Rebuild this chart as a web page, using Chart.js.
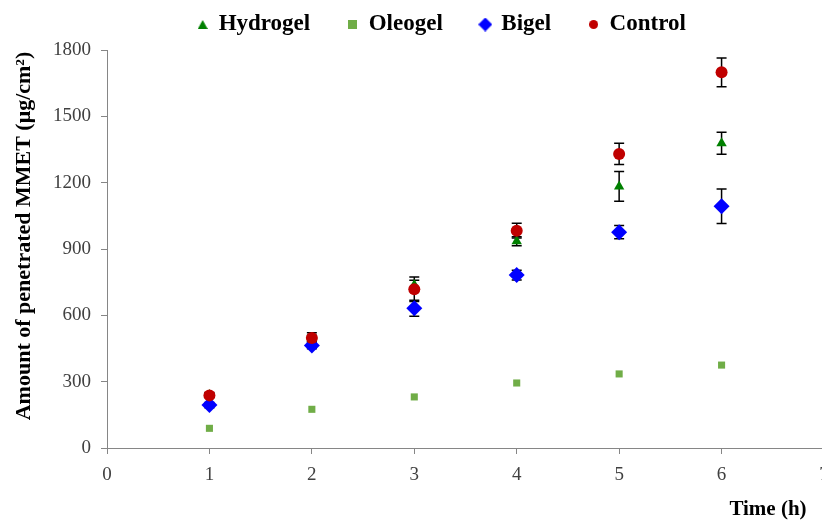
<!DOCTYPE html>
<html>
<head>
<meta charset="utf-8">
<script src="https://cdn.jsdelivr.net/npm/chart.js@4.4.0/dist/chart.umd.min.js"></script>
<style>
  html, body { margin: 0; padding: 0; background: #fff; overflow: hidden; }
  #wrap { position: relative; width: 840px; height: 520px; }
</style>
</head>
<body>
<div id="wrap"><canvas id="c" width="840" height="520"></canvas></div>
<script>
// Sampling times (h)
const timeHours = [1, 2, 3, 4, 5, 6];

// Cumulative amount of MMET penetrated (µg/cm²) and standard deviations
const hydrogel    = [240, 495, 737, 935, 1183, 1378];
const hydrogelErr = [10, 15, 22, 20, 67, 50];
const oleogel     = [89, 175, 231, 294, 335, 375];
const oleogelErr  = [0, 0, 0, 0, 0, 0];
const bigel       = [194, 464, 632, 782, 976, 1093];
const bigelErr    = [12, 15, 36, 22, 30, 78];
const control     = [238, 497, 718, 983, 1330, 1699];
const controlErr  = [10, 24, 55, 33, 48, 65];

// Axis ticks
const xTicks = [0, 1, 2, 3, 4, 5, 6, 7];
const yTicks = [0, 300, 600, 900, 1200, 1500, 1800];

const serif = "'Liberation Serif', 'Times New Roman', serif";

function points(ys, errs) {
  return timeHours.map((t, i) => ({ x: t, y: ys[i], err: errs[i] }));
}

// Small marker images for the legend row
function marker(shape, color, w, h) {
  const c = document.createElement('canvas');
  c.width = w; c.height = h;
  const g = c.getContext('2d');
  g.fillStyle = color;
  g.beginPath();
  if (shape === 'triangle') { g.moveTo(w / 2, 0); g.lineTo(w, h); g.lineTo(0, h); }
  else if (shape === 'rect') { g.rect(0, 0, w, h); }
  else if (shape === 'diamond') { g.moveTo(w / 2, 0); g.lineTo(w, h / 2); g.lineTo(w / 2, h); g.lineTo(0, h / 2); }
  else { g.arc(w / 2, h / 2, w / 2, 0, Math.PI * 2); }
  g.closePath();
  g.fill();
  return c;
}
const legendMarkers = [
  marker('triangle', '#008000', 10, 9),
  marker('rect', '#70ad47', 9, 9),
  marker('diamond', '#0000ff', 14, 14),
  marker('circle', '#c00000', 9, 9)
];

// Vertical error bars with caps, drawn behind the markers
const errorBars = {
  id: 'errorBars',
  beforeDatasetsDraw(chart) {
    const { ctx, scales: { x, y } } = chart;
    ctx.save();
    ctx.strokeStyle = '#000';
    ctx.lineWidth = 1.5;
    chart.data.datasets.forEach(ds => {
      ds.data.forEach(p => {
        if (!p.err) return;
        const px = x.getPixelForValue(p.x);
        const top = y.getPixelForValue(p.y + p.err);
        const bot = y.getPixelForValue(p.y - p.err);
        ctx.beginPath();
        ctx.moveTo(px, top); ctx.lineTo(px, bot);
        ctx.moveTo(px - 5, top); ctx.lineTo(px + 5, top);
        ctx.moveTo(px - 5, bot); ctx.lineTo(px + 5, bot);
        ctx.stroke();
      });
    });
    ctx.restore();
  }
};

// Axis titles
const axisTitles = {
  id: 'axisTitles',
  afterDraw(chart) {
    const { ctx } = chart;
    ctx.save();
    ctx.fillStyle = '#000';
    ctx.textAlign = 'center';
    ctx.textBaseline = 'middle';
    ctx.font = "bold 21px " + serif;
    ctx.fillText('Time (h)', 768, 510);
    ctx.font = "bold 22px " + serif;
    ctx.translate(24, 236);
    ctx.rotate(-Math.PI / 2);
    ctx.fillText('Amount of penetrated MMET (μg/cm²)', 0, 0);
    ctx.restore();
  }
};

// Place the legend row near the top edge
const legendPlace = {
  id: 'legendPlace',
  afterLayout(chart) {
    const lg = chart.legend;
    if (!lg) return;
    const dx = 30;
    lg.left += dx; lg.right += dx;
    lg.top = -25;
    lg.height = 90;
    lg.bottom = lg.top + lg.height;
  }
};

new Chart(document.getElementById('c'), {
  type: 'scatter',
  data: {
    datasets: [
      { label: 'Hydrogel', data: points(hydrogel, hydrogelErr), pointStyle: 'triangle',
        backgroundColor: '#008000', borderColor: '#008000', pointRadius: 6, borderWidth: 0, order: 3 },
      { label: 'Oleogel', data: points(oleogel, oleogelErr), pointStyle: 'rect',
        backgroundColor: '#70ad47', borderColor: '#70ad47', pointRadius: 5, borderWidth: 0, order: 2 },
      { label: 'Bigel', data: points(bigel, bigelErr), pointStyle: 'rectRot',
        backgroundColor: '#0000ff', borderColor: '#0000ff', pointRadius: 8, borderWidth: 0, order: 1 },
      { label: 'Control', data: points(control, controlErr), pointStyle: 'circle',
        backgroundColor: '#c00000', borderColor: '#c00000', pointRadius: 6, borderWidth: 0, order: 0 }
    ]
  },
  options: {
    responsive: false,
    animation: false,
    devicePixelRatio: 1,
    layout: { padding: { top: 6, right: 16, bottom: 0, left: 0 } },
    plugins: {
      legend: {
        position: 'top',
        maxHeight: 44,
        labels: {
          usePointStyle: true,
          boxWidth: 9,
          boxHeight: 8,
          padding: 38,
          color: '#000',
          font: { family: serif, size: 23, weight: 'bold' },
          sort: (a, b) => a.datasetIndex - b.datasetIndex,
          generateLabels(chart) {
            const items = Chart.defaults.plugins.legend.labels.generateLabels(chart);
            items.forEach(it => { it.pointStyle = legendMarkers[it.datasetIndex]; });
            return items;
          }
        }
      },
      tooltip: { enabled: false }
    },
    scales: {
      x: {
        type: 'linear',
        min: 0, max: 7,
        afterBuildTicks: s => { s.ticks = xTicks.map(v => ({ value: v })); },
        afterFit: s => { s.height = 72; },
        border: { color: '#868686', width: 1 },
        grid: { display: true, drawOnChartArea: false, color: '#868686', tickLength: 6 },
        ticks: { color: '#404040', padding: 10, font: { family: serif, size: 19 },
                 callback: v => String(v) }
      },
      y: {
        type: 'linear',
        min: 0, max: 1800,
        afterBuildTicks: s => { s.ticks = yTicks.map(v => ({ value: v })); },
        afterFit: s => { s.width = 107; },
        border: { color: '#868686', width: 1 },
        grid: { display: true, drawOnChartArea: false, color: '#868686', tickLength: 6 },
        ticks: { color: '#404040', padding: 10, font: { family: serif, size: 19 },
                 callback: v => String(v) }
      }
    }
  },
  plugins: [errorBars, axisTitles, legendPlace]
});
</script>
</body>
</html>
